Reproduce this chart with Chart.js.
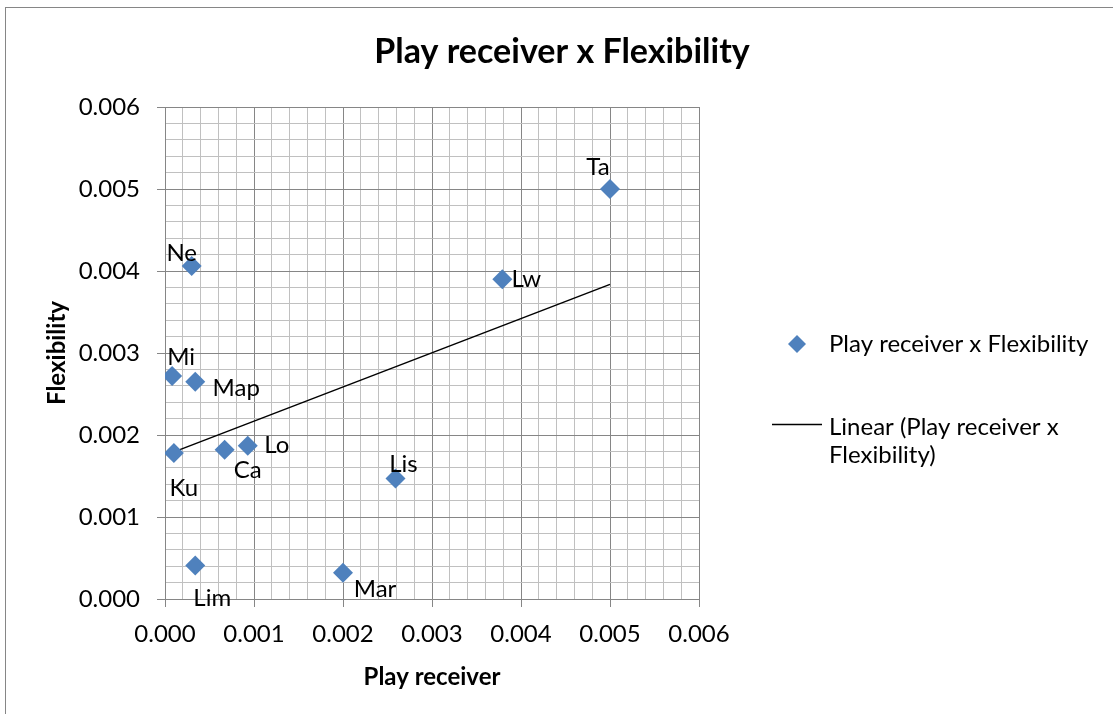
<!DOCTYPE html>
<html>
<head>
<meta charset="utf-8">
<script src="https://cdn.jsdelivr.net/npm/chart.js@4/dist/chart.umd.min.js"></script>
<style>
  html, body { margin: 0; padding: 0; background: #ffffff; }
  #wrap { width: 1113px; height: 714px; position: relative; }
</style>
</head>
<body>
<div id="wrap"><canvas id="chart" width="1113" height="714"></canvas></div>
<script>
// Point names and their measured values
const names = ['Ne', 'Mi', 'Map', 'Ku', 'Ca', 'Lo', 'Lis', 'Lim', 'Mar', 'Lw', 'Ta'];
const playReceiver = [0.0003, 0.00008, 0.00034, 0.0001, 0.00067, 0.00093, 0.00259, 0.00034, 0.002, 0.00379, 0.005];
const flexibility = [0.00406, 0.00272, 0.00265, 0.00178, 0.00182, 0.00187, 0.00147, 0.00041, 0.00032, 0.0039, 0.005];

const chartTitle = 'Play receiver x Flexibility';
const seriesName = 'Play receiver x Flexibility';
const trendName = 'Linear (Play receiver x Flexibility)';
const trendLegendLines = ['Linear (Play receiver x', 'Flexibility)'];

// Axis range and tick spacing
const axisMin = 0;
const axisMax = 0.006;
const majorStep = 0.001;
const minorStep = 0.0002;

const FONT = 'Lato, "Open Sans", sans-serif';
const TEXT_SIZE = 24;
const BLUE = '#4F81BD';
const MAJOR_GRID = '#868686';
const MINOR_GRID = '#C0C0C0';

// Least-squares fit for the linear trendline
function linearFit(xs, ys) {
  const n = xs.length;
  const mx = xs.reduce((a, b) => a + b, 0) / n;
  const my = ys.reduce((a, b) => a + b, 0) / n;
  let sxy = 0, sxx = 0;
  for (let i = 0; i < n; i++) {
    sxy += (xs[i] - mx) * (ys[i] - my);
    sxx += (xs[i] - mx) * (xs[i] - mx);
  }
  const slope = sxy / sxx;
  return { slope, intercept: my - slope * mx };
}
const fit = linearFit(playReceiver, flexibility);
const xLo = Math.min(...playReceiver);
const xHi = Math.max(...playReceiver);
const trendPoints = [
  { x: xLo, y: fit.intercept + fit.slope * xLo },
  { x: xHi, y: fit.intercept + fit.slope * xHi }
];

const points = playReceiver.map((x, i) => ({ x, y: flexibility[i] }));

function isMajor(v) {
  return Math.round(v / minorStep) % Math.round(majorStep / minorStep) === 0;
}

// Offsets of each name tag from its marker (pixels)
const tagOffsets = {
  Ne: [-10, -13], Mi: [9, -19], Map: [41, 7], Ku: [10, 35], Ca: [23, 21],
  Lo: [29, 0], Lis: [8, -14], Lim: [17, 33], Mar: [32, 17], Lw: [24, 0], Ta: [-12, -22]
};

const pointTags = {
  id: 'pointTags',
  afterDatasetsDraw(chart) {
    const ctx = chart.ctx;
    const meta = chart.getDatasetMeta(0);
    ctx.save();
    ctx.font = TEXT_SIZE + 'px ' + FONT;
    ctx.fillStyle = '#000000';
    ctx.textAlign = 'center';
    ctx.textBaseline = 'middle';
    meta.data.forEach((el, i) => {
      const off = tagOffsets[names[i]] || [0, 0];
      ctx.fillText(names[i], el.x + off[0], el.y + off[1]);
    });
    ctx.restore();
  }
};

// White background, outer frame and the chart heading
const frame = {
  id: 'frame',
  beforeDraw(chart) {
    const ctx = chart.ctx;
    ctx.save();
    ctx.fillStyle = '#ffffff';
    ctx.fillRect(0, 0, chart.width, chart.height);
    ctx.strokeStyle = '#868686';
    ctx.lineWidth = 1;
    ctx.strokeRect(5.5, 7.5, chart.width + 20, chart.height + 20);
    ctx.font = 'bold 34px ' + FONT;
    ctx.fillStyle = '#000000';
    ctx.textAlign = 'center';
    ctx.textBaseline = 'alphabetic';
    ctx.fillText(chartTitle, 562, 63);
    ctx.restore();
  }
};

// Legend on the right, with the trendline entry wrapped on two lines
const sideLegend = {
  id: 'sideLegend',
  afterDraw(chart) {
    const ctx = chart.ctx;
    ctx.save();
    ctx.font = TEXT_SIZE + 'px ' + FONT;
    ctx.textAlign = 'left';
    ctx.textBaseline = 'alphabetic';
    // marker entry
    const mx = 797, my = 344, r = 9;
    ctx.fillStyle = BLUE;
    ctx.beginPath();
    ctx.moveTo(mx, my - r); ctx.lineTo(mx + r, my); ctx.lineTo(mx, my + r); ctx.lineTo(mx - r, my);
    ctx.closePath();
    ctx.fill();
    ctx.fillStyle = '#000000';
    ctx.fillText(seriesName, 829, 352);
    // trendline entry
    ctx.strokeStyle = '#000000';
    ctx.lineWidth = 1.5;
    ctx.beginPath();
    ctx.moveTo(772, 424.5); ctx.lineTo(822, 424.5);
    ctx.stroke();
    ctx.fillText(trendLegendLines[0], 829, 435);
    ctx.fillText(trendLegendLines[1], 829, 463);
    ctx.restore();
  }
};

function axisTitle(text) {
  return { display: true, text, color: '#000000', font: { family: FONT, size: TEXT_SIZE, weight: 'bold' } };
}

function scaleOptions(title, tickPad) {
  return {
    type: 'linear',
    min: axisMin,
    max: axisMax,
    border: { display: true, color: MAJOR_GRID, width: 1 },
    grid: {
      color: (c) => (c.tick && isMajor(c.tick.value)) ? MAJOR_GRID : MINOR_GRID,
      tickColor: (c) => (c.tick && isMajor(c.tick.value)) ? MAJOR_GRID : 'rgba(0,0,0,0)',
      lineWidth: 1,
      tickLength: 8,
      drawTicks: true
    },
    ticks: {
      stepSize: minorStep,
      autoSkip: false,
      maxRotation: 0,
      minRotation: 0,
      color: '#000000',
      font: { family: FONT, size: TEXT_SIZE },
      padding: tickPad,
      callback: (v) => isMajor(v) ? Number(v).toFixed(3) : ''
    },
    title: axisTitle(title)
  };
}

const xScale = scaleOptions('Play receiver', 13);
xScale.position = 'bottom';
xScale.title.padding = { top: 0, bottom: 22 };
xScale.afterFit = (s) => { s.height = 115; };

const yScale = scaleOptions('Flexibility', 17);
yScale.position = 'left';
yScale.title.padding = { top: 43, bottom: 0 };
yScale.afterFit = (s) => { s.width = 165; };

new Chart(document.getElementById('chart'), {
  type: 'scatter',
  data: {
    datasets: [
      {
        label: seriesName,
        data: points,
        pointStyle: 'rectRot',
        pointRadius: 10,
        pointHoverRadius: 10,
        backgroundColor: BLUE,
        borderColor: BLUE,
        borderWidth: 0
      },
      {
        label: trendName,
        type: 'line',
        data: trendPoints,
        showLine: true,
        borderColor: '#000000',
        borderWidth: 1.5,
        pointRadius: 0,
        fill: false
      }
    ]
  },
  options: {
    responsive: false,
    animation: false,
    layout: { padding: { left: 0, right: 414, top: 107, bottom: 0 } },
    plugins: {
      legend: { display: false },
      tooltip: { enabled: false },
      title: { display: false }
    },
    scales: { x: xScale, y: yScale }
  },
  plugins: [frame, pointTags, sideLegend]
});
</script>
</body>
</html>
